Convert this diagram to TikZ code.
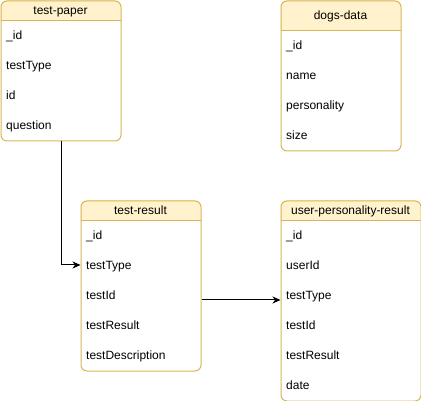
\documentclass[tikz,border=0pt]{standalone}
\usepackage{fontspec}
\setmainfont{Liberation Sans}
\usetikzlibrary{arrows.meta}
\definecolor{hdrfill}{HTML}{FFF2CC}
\definecolor{hdrline}{HTML}{D6B656}
\tikzset{
  entbox/.style={draw=hdrline, line width=1pt, rounded corners=6pt, inner sep=0pt, anchor=north west},
  txt/.style={inner sep=0pt, text height=8.6pt, text depth=0pt, font=\fontsize{12}{14}\selectfont},
  rowtext/.style={txt, anchor=west},
  conn/.style={draw=black, line width=1pt, -{Stealth[length=8pt,width=7pt,inset=2.5pt]}}
}
% \myentity{name}{x}{y}{w}{h}{header h}{title}
\newcommand{\myentity}[7]{%
  \begin{scope}
    \clip (#2,#3) rectangle ({#2+#4},{#3+#6});
    \fill[hdrfill, rounded corners=6pt] (#2,#3) rectangle ({#2+#4},{#3+#5});
  \end{scope}
  \draw[hdrline, line width=1pt] (#2,{#3+#6}) -- ({#2+#4},{#3+#6});
  \node[entbox, minimum width=#4pt, minimum height=#5pt] (#1) at (#2,#3) {};
  \node[txt] (#1-title) at ({#2+#4/2},{#3+#6/2}) {#7};
}
\begin{document}
\begin{tikzpicture}[x=1pt,y=-1pt]
\useasboundingbox (0,0) rectangle (421,401);

% test-paper
\myentity{tp}{0.5}{0.5}{120}{140}{20}{test-paper}
\foreach \i/\t [count=\k from 0] in {id/\_id,type/testType,idb/id,q/question}{
  \node[rowtext] (tp-\i) at (6,{35+30*\k}) {\t};
}

% dogs-data
\myentity{dd}{280.5}{0.5}{120}{150}{30}{dogs-data}
\foreach \i/\t [count=\k from 0] in {id/\_id,name/name,pers/personality,size/size}{
  \node[rowtext] (dd-\i) at (286,{45+30*\k}) {\t};
}

% test-result
\myentity{tr}{80.5}{200.5}{120}{170}{20}{test-result}
\foreach \i/\t [count=\k from 0] in {id/\_id,type/testType,tid/testId,res/testResult,desc/testDescription}{
  \node[rowtext] (tr-\i) at (86,{235+30*\k}) {\t};
}

% user-personality-result
\myentity{ur}{280.5}{200.5}{140}{200}{20}{user-personality-result}
\foreach \i/\t [count=\k from 0] in {id/\_id,uid/userId,type/testType,tid/testId,res/testResult,date/date}{
  \node[rowtext] (ur-\i) at (286,{235+30*\k}) {\t};
}

% anchors for connectors
\coordinate (trTypeIn) at (tr.west |- tr-type.west);
\coordinate (trOut) at ([yshift=-5pt]tr.east |- tr-tid.west);
\coordinate (urIn) at (ur.west |- trOut);

\draw[conn] (tp.south) |- (trTypeIn);
\draw[conn] (trOut) -- (urIn);
\end{tikzpicture}
\end{document}
